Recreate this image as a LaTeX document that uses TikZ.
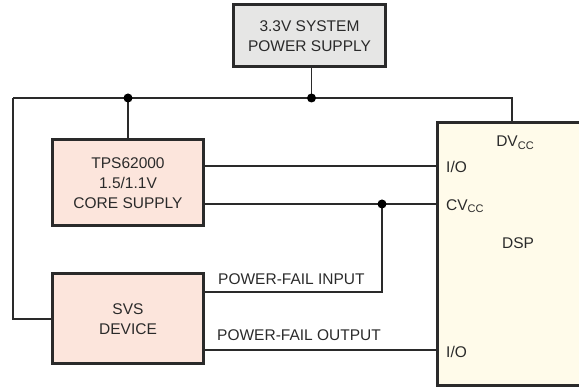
\documentclass[tikz,border=0pt]{standalone}
\usepackage{fontspec}
\setmainfont{Liberation Sans}
\definecolor{ln}{HTML}{2A2A2A}
\definecolor{psfill}{HTML}{E6E6E5}
\definecolor{pkfill}{HTML}{FCE5DC}
\definecolor{ylfill}{HTML}{FFFBEA}
\newcommand\subcc[1]{\raisebox{-2.6pt}{\fontsize{11}{11}\selectfont #1}}
\begin{document}
\begin{tikzpicture}[x=1pt,y=-1pt,
  every node/.style={font=\fontsize{15.5}{20}\selectfont, text=ln, inner sep=0pt},
  blk/.style={draw=ln, line width=3pt, align=center},
  wire/.style={draw=ln, line width=1.7pt},
  jdot/.style={circle, fill=black, minimum size=9pt, inner sep=0pt},
  lbl/.style={anchor=west}]
\useasboundingbox (0,0) rectangle (579,387);
\clip (0,0) rectangle (579,387);
% blocks
\node[blk, fill=psfill, minimum width=152pt, minimum height=62pt] (ps) at (309.5,36) {3.3V SYSTEM\\POWER SUPPLY};
\node[blk, fill=pkfill, minimum width=151pt, minimum height=86pt] (tps) at (128,183) {TPS62000\\1.5/1.1V\\CORE SUPPLY};
\node[blk, fill=pkfill, minimum width=151pt, minimum height=90pt] (svs) at (128,319) {SVS\\DEVICE};
\node[blk, fill=ylfill, minimum width=163pt, minimum height=263pt] (dsp) at (519,254.5) {};
% DSP texts
\node (dvcc) at (515,143) {DV\subcc{CC}};
\node[lbl] (io1) at (446,167) {I/O};
\node[lbl] (cvcc) at (446,206) {CV\subcc{CC}};
\node (dsplbl) at (518,243) {DSP};
\node[lbl] (io2) at (446,352) {I/O};
% coordinates
\coordinate (jps) at (311.5,98);
\coordinate (jtps) at (128,98);
\coordinate (tl) at (13,98);
\coordinate (tr) at (512,98);
\coordinate (pio1) at (437.5,166);
\coordinate (pcv) at (437.5,204);
\coordinate (jcv) at (382,204);
\coordinate (pfi) at (382,292);
\coordinate (pio2) at (437.5,350);
% wires
\draw[wire] (jps |- ps.south) -- (jps);
\draw[wire] (tl) -- (tr) -- (tr |- dsp.north);
\draw[wire] (jtps) -- (jtps |- tps.north);
\draw[wire] (tl) |- (svs.west);
\draw[wire] (tps.east |- pio1) -- (pio1);
\draw[wire] (tps.east |- pcv) -- (pcv);
\draw[wire] (jcv) -- (pfi) -- (svs.east |- pfi);
\draw[wire] (svs.east |- pio2) -- (pio2);
% labels
\node[lbl] (pfin) at (218,279) {POWER-FAIL INPUT};
\node[lbl] (pfout) at (217,335) {POWER-FAIL OUTPUT};
% dots
\node[jdot] at (jps) {};
\node[jdot] at (jtps) {};
\node[jdot] at (jcv) {};
\end{tikzpicture}
\end{document}
